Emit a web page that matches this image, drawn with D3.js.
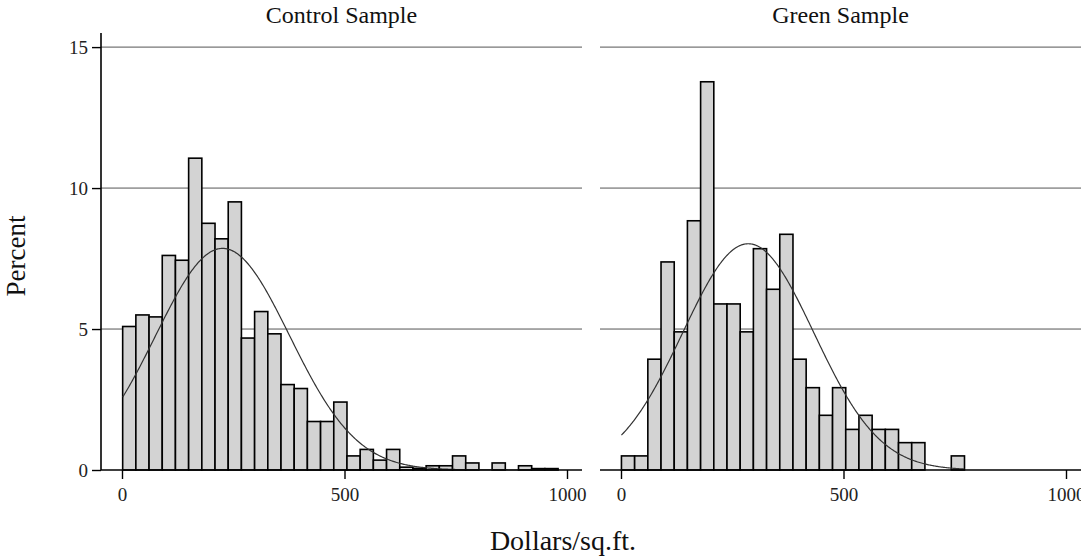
<!DOCTYPE html>
<html>
<head>
<meta charset="utf-8">
<script src="https://cdnjs.cloudflare.com/ajax/libs/d3/7.8.5/d3.min.js"></script>
<style>
  body { margin: 0; background: #fff; }
  text { font-family: "Liberation Serif", "DejaVu Serif", serif; fill: #111; }
</style>
</head>
<body>
<div id="chart"></div>
<script>
// Histogrammes (pourcentage par classe) : Control / Green
const panelTitles = ["Control Sample", "Green Sample"];
const controlPercent = [5.09, 5.50, 5.43, 7.61, 7.44, 11.06, 8.75, 8.20, 9.51, 4.68, 5.62,
  4.83, 3.03, 2.89, 1.72, 1.72, 2.41, 0.50, 0.73, 0.35, 0.73, 0.10, 0.06, 0.15, 0.15,
  0.50, 0.25, 0, 0.25, 0, 0.15, 0.05, 0.05];
const greenPercent = [0.50, 0.50, 3.93, 7.38, 4.90, 8.84, 13.77, 5.89, 5.89, 4.90, 7.85,
  6.41, 8.36, 3.93, 2.92, 1.94, 2.92, 1.44, 1.94, 1.44, 1.44, 0.97, 0.97, 0, 0, 0.50];
// début des classes et largeur (dollars/sq.ft.)
const binStarts = [1.5, 1];
const binWidth = 29.65;
// courbe normale superposée : moyenne et écart-type
const normalMeans = [226, 286];
const normalSDs = [150.5, 147.4];
const xTicks = [0, 500, 1000];
const yTicks = [0, 5, 10, 15];

const width = 1081, height = 560;
const svg = d3.select("#chart").append("svg")
    .attr("width", width)
    .attr("height", height);

const plotTop = 33, plotBottom = 470;
const y = d3.scaleLinear().domain([0, 15.5]).range([plotBottom, plotTop]);

// position des deux panneaux
const panels = [
  { x0: 101, x1: 582, data: controlPercent },
  { x0: 600, x1: 1081, data: greenPercent }
];

panels.forEach((p, k) => {
  const x = d3.scaleLinear().domain([0, 1000]).range([p.x0 + 21, p.x0 + 21 + 445]);
  const g = svg.append("g");

  // lignes horizontales
  g.selectAll("line.grid")
    .data(yTicks.filter(d => d > 0))
    .enter().append("line")
    .attr("x1", p.x0).attr("x2", p.x1)
    .attr("y1", d => y(d)).attr("y2", d => y(d))
    .attr("stroke", "#555").attr("stroke-width", 1);

  // barres
  const bins = p.data.map((v, i) => ({
    x0: binStarts[k] + i * binWidth,
    x1: binStarts[k] + (i + 1) * binWidth,
    v: v
  })).filter(d => d.v > 0);

  g.selectAll("rect")
    .data(bins)
    .enter().append("rect")
    .attr("x", d => x(d.x0))
    .attr("y", d => y(d.v))
    .attr("width", d => x(d.x1) - x(d.x0))
    .attr("height", d => y(0) - y(d.v))
    .attr("fill", "#d3d3d3")
    .attr("stroke", "#000")
    .attr("stroke-width", 1.6);

  // courbe normale (en pourcentage par classe)
  const lo = binStarts[k], hi = binStarts[k] + p.data.length * binWidth;
  const pts = d3.range(lo, hi, 2).concat([hi]).map(v => {
    const z = (v - normalMeans[k]) / normalSDs[k];
    return [v, 100 * binWidth * Math.exp(-z * z / 2) / (normalSDs[k] * Math.sqrt(2 * Math.PI))];
  });
  g.append("path")
    .datum(pts)
    .attr("fill", "none")
    .attr("stroke", "#333")
    .attr("stroke-width", 1.2)
    .attr("d", d3.line().x(d => x(d[0])).y(d => y(d[1])));

  // axe des x
  g.append("line")
    .attr("x1", p.x0).attr("x2", p.x1)
    .attr("y1", plotBottom).attr("y2", plotBottom)
    .attr("stroke", "#000").attr("stroke-width", 1.6);

  const xAxis = g.append("g")
    .attr("transform", "translate(0," + plotBottom + ")")
    .call(d3.axisBottom(x).tickValues(xTicks).tickSize(9).tickPadding(9).tickFormat(d3.format("d")));
  xAxis.select(".domain").remove();
  xAxis.selectAll("line").attr("stroke", "#000").attr("stroke-width", 1.4);
  xAxis.selectAll("text").style("font-size", "19px").style("font-family", "Liberation Serif").style("fill", "#222");

  // titre du panneau
  svg.append("text")
    .attr("x", (p.x0 + p.x1) / 2)
    .attr("y", 23)
    .attr("text-anchor", "middle")
    .style("font-size", "24px")
    .text(panelTitles[k]);
});

// axe des y (panneau de gauche seulement)
const yAxis = svg.append("g")
    .attr("transform", "translate(101,0)")
    .call(d3.axisLeft(y).tickValues(yTicks).tickSize(9).tickPadding(4));
yAxis.select(".domain").attr("d", "M0," + plotTop + "V" + plotBottom).attr("stroke", "#000").attr("stroke-width", 1.6);
yAxis.selectAll("line").attr("stroke", "#000").attr("stroke-width", 1.4);
yAxis.selectAll("text").style("font-size", "19px").style("font-family", "Liberation Serif").style("fill", "#222");

// titres des axes
svg.append("text")
    .attr("x", 563)
    .attr("y", 550)
    .attr("text-anchor", "middle")
    .style("font-size", "28px")
    .text("Dollars/sq.ft.");

svg.append("text")
    .attr("transform", "translate(25,256) rotate(-90)")
    .attr("text-anchor", "middle")
    .style("font-size", "27px")
    .text("Percent");
</script>
</body>
</html>
